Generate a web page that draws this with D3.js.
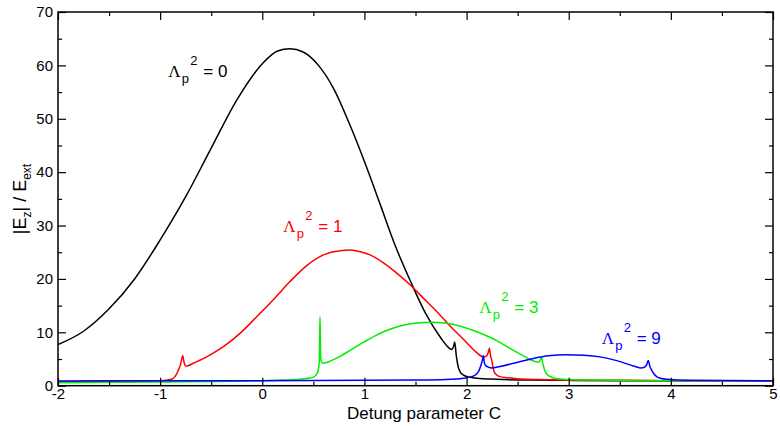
<!DOCTYPE html>
<html>
<head>
<meta charset="utf-8">
<script src="https://cdn.jsdelivr.net/npm/d3@7"></script>
<style>
  body { margin: 0; background: #fff; }
  svg { display: block; }
  text { font-family: "Liberation Sans", Arial, Helvetica, sans-serif; }
</style>
</head>
<body>
<svg id="chart" width="780" height="426"></svg>
<script>
// Tick values
const xMajorTicks = [-2, -1, 0, 1, 2, 3, 4, 5];
const xMinorTicks = [-1.5, -0.5, 0.5, 1.5, 2.5, 3.5, 4.5];
const yMajorTicks = [0, 10, 20, 30, 40, 50, 60, 70];
const yMinorTicks = [5, 15, 25, 35, 45, 55, 65];

// |E_z|/E_ext versus detuning C, for Lambda_p^2 = 0
const lam0C = [-2, -1.75, -1.5, -1.25, -1.0, -0.75, -0.5, -0.25, 0.0, 0.15, 0.27, 0.4, 0.55, 0.7, 0.85, 1.0, 1.15, 1.3, 1.45, 1.6, 1.75, 1.806, 1.855, 1.872, 1.884, 1.9, 1.92, 1.94, 1.97, 2.0, 2.05, 2.1, 2.295, 2.6, 3.0, 3.5, 4.0, 5.0];
const lam0E = [7.7, 10.2, 14.4, 20.0, 27.3, 35.4, 44.5, 53.5, 60.3, 62.7, 63.1, 62.5, 60.0, 55.6, 49.2, 42.0, 34.2, 26.3, 19.6, 13.5, 8.9, 7.5, 6.8, 7.3, 8.2, 5.5, 3.4, 2.5, 2.0, 1.75, 1.55, 1.4, 1.2, 1.05, 1.0, 0.95, 0.92, 0.9];

// Lambda_p^2 = 1
const lam1C = [-2, -1.5, -1.0, -0.95, -0.9, -0.871, -0.845, -0.822, -0.8, -0.779, -0.765, -0.747, -0.72, -0.675, -0.544, -0.381, -0.218, -0.055, 0.108, 0.271, 0.435, 0.598, 0.761, 0.859, 0.96, 1.055, 1.186, 1.316, 1.447, 1.577, 1.708, 1.838, 1.969, 2.034, 2.099, 2.164, 2.197, 2.212, 2.223, 2.235, 2.246, 2.258, 2.27, 2.29, 2.327, 2.4, 2.49, 2.7, 2.915, 3.5, 4.0, 5.0];
const lam1E = [0.75, 0.8, 0.9, 1.0, 1.15, 1.4, 2.0, 2.9, 4.0, 5.6, 4.3, 3.7, 3.8, 4.2, 5.4, 7.3, 9.8, 12.9, 16.1, 19.5, 22.5, 24.5, 25.3, 25.4, 25.1, 24.5, 23.0, 21.1, 18.9, 16.4, 13.9, 11.2, 8.7, 7.4, 6.2, 5.4, 5.6, 6.2, 7.0, 5.6, 4.8, 3.6, 2.6, 2.1, 1.7, 1.5, 1.3, 1.15, 1.07, 1.0, 0.95, 0.92];

// Lambda_p^2 = 3
const lam3C = [-2, -1.0, 0.0, 0.2, 0.37, 0.45, 0.5, 0.53, 0.548, 0.558, 0.565, 0.571, 0.578, 0.598, 0.65, 0.761, 0.859, 0.99, 1.1, 1.2, 1.3, 1.4, 1.52, 1.66, 1.8, 1.95, 2.1, 2.3, 2.45, 2.556, 2.62, 2.68, 2.71, 2.733, 2.745, 2.765, 2.79, 2.82, 2.86, 2.915, 3.2, 4.0, 5.0];
const lam3E = [0.55, 0.7, 0.95, 1.05, 1.2, 1.4, 1.6, 2.1, 2.9, 4.5, 12.9, 6.0, 4.5, 4.2, 4.5, 5.5, 6.6, 8.1, 9.3, 10.2, 10.9, 11.4, 11.75, 11.9, 11.7, 11.1, 10.1, 8.4, 6.7, 5.6, 4.9, 4.5, 4.4, 5.3, 4.3, 2.9, 2.1, 1.7, 1.4, 1.25, 1.05, 0.95, 0.92];

// Lambda_p^2 = 9
const lam9C = [-2, -1.0, 0.0, 1.0, 1.5, 1.8, 1.969, 2.066, 2.115, 2.14, 2.155, 2.164, 2.175, 2.197, 2.246, 2.327, 2.5, 2.654, 2.8, 2.98, 3.15, 3.306, 3.47, 3.633, 3.714, 3.76, 3.779, 3.795, 3.812, 3.835, 3.861, 3.9, 3.959, 4.2, 5.0];
const lam9E = [0.9, 0.92, 0.95, 1.0, 1.05, 1.15, 1.4, 1.8, 2.6, 3.8, 4.8, 5.6, 4.2, 3.6, 3.3, 3.6, 4.4, 5.1, 5.6, 5.8, 5.7, 5.4, 4.7, 3.7, 3.3, 3.8, 4.7, 3.6, 2.9, 2.2, 1.7, 1.4, 1.2, 1.0, 0.92];

const seriesLambda = ["0", "1", "3", "9"];

const svg = d3.select("#chart");
svg.append("rect").attr("width", 780).attr("height", 426).attr("fill", "#fff");

const plot = { left: 58, right: 773, top: 12, bottom: 385.7 };
const x = d3.scaleLinear().domain([-2, 5]).range([plot.left, plot.right]);
const y = d3.scaleLinear().domain([0, 70]).range([plot.bottom, plot.top]);

const series = [
  { c: lam0C, e: lam0E, color: "#000000", lab: [-0.92, 57.9] },
  { c: lam1C, e: lam1E, color: "#ff0000", lab: [0.206, 28.7] },
  { c: lam3C, e: lam3E, color: "#00ee00", lab: [2.125, 13.6] },
  { c: lam9C, e: lam9E, color: "#0000ff", lab: [3.323, 7.8] }
];

// Clip curves to the plotting frame
svg.append("defs").append("clipPath").attr("id", "frame")
  .append("rect")
  .attr("x", plot.left).attr("y", plot.top)
  .attr("width", plot.right - plot.left).attr("height", plot.bottom - plot.top);

const line = d3.line()
  .x(d => x(d[0]))
  .y(d => y(d[1]))
  .curve(d3.curveMonotoneX);

const curves = svg.append("g").attr("clip-path", "url(#frame)");
series.forEach(s => {
  curves.append("path")
    .datum(s.c.map((c, i) => [c, s.e[i]]))
    .attr("fill", "none")
    .attr("stroke", s.color)
    .attr("stroke-width", 1.5)
    .attr("stroke-linejoin", "round")
    .attr("d", line);
});

// Axes: ticks point inward on all four sides
function styleAxis(g) {
  g.selectAll(".tick line").attr("stroke", "#000").attr("stroke-width", 1.2);
  g.selectAll(".domain").remove();
  g.selectAll("text").attr("fill", "#000").style("font-size", "15px");
}
const fmt = d => String(d);

svg.append("g").attr("transform", `translate(0,${plot.bottom})`)
  .call(d3.axisBottom(x).tickValues(xMajorTicks).tickSizeInner(-8).tickSizeOuter(0).tickPadding(3).tickFormat(fmt))
  .call(styleAxis);
svg.append("g").attr("transform", `translate(0,${plot.bottom})`)
  .call(d3.axisBottom(x).tickValues(xMinorTicks).tickSizeInner(-4).tickSizeOuter(0).tickFormat(""))
  .call(styleAxis);
svg.append("g").attr("transform", `translate(0,${plot.top})`)
  .call(d3.axisTop(x).tickValues(xMajorTicks).tickSizeInner(-8).tickSizeOuter(0).tickFormat(""))
  .call(styleAxis);
svg.append("g").attr("transform", `translate(0,${plot.top})`)
  .call(d3.axisTop(x).tickValues(xMinorTicks).tickSizeInner(-4).tickSizeOuter(0).tickFormat(""))
  .call(styleAxis);

svg.append("g").attr("transform", `translate(${plot.left},0)`)
  .call(d3.axisLeft(y).tickValues(yMajorTicks).tickSizeInner(-8).tickSizeOuter(0).tickPadding(5).tickFormat(fmt))
  .call(styleAxis);
svg.append("g").attr("transform", `translate(${plot.left},0)`)
  .call(d3.axisLeft(y).tickValues(yMinorTicks).tickSizeInner(-4).tickSizeOuter(0).tickFormat(""))
  .call(styleAxis);
svg.append("g").attr("transform", `translate(${plot.right},0)`)
  .call(d3.axisRight(y).tickValues(yMajorTicks).tickSizeInner(-8).tickSizeOuter(0).tickFormat(""))
  .call(styleAxis);
svg.append("g").attr("transform", `translate(${plot.right},0)`)
  .call(d3.axisRight(y).tickValues(yMinorTicks).tickSizeInner(-4).tickSizeOuter(0).tickFormat(""))
  .call(styleAxis);

// Frame
svg.append("rect")
  .attr("x", plot.left).attr("y", plot.top)
  .attr("width", plot.right - plot.left).attr("height", plot.bottom - plot.top)
  .attr("fill", "none").attr("stroke", "#000").attr("stroke-width", 1.5);

// Curve labels: Λ_p^2 = value
series.forEach((s, i) => {
  const ax = x(s.lab[0]), ay = y(s.lab[1]);
  const t = svg.append("text").attr("fill", s.color);
  t.append("tspan").attr("x", ax).attr("y", ay)
    .style("font-family", '"Liberation Serif", "Times New Roman", serif')
    .style("font-size", "17px").text("Λ");
  t.append("tspan").attr("x", ax + 13.5).attr("y", ay + 6)
    .style("font-size", "13px").text("p");
  t.append("tspan").attr("x", ax + 22).attr("y", ay - 12)
    .style("font-size", "13px").text("2");
  t.append("tspan").attr("x", ax + 35).attr("y", ay)
    .style("font-size", "17px").text("= " + seriesLambda[i]);
});

// Axis titles
svg.append("text")
  .attr("x", 424).attr("y", 419)
  .attr("text-anchor", "middle")
  .style("font-size", "17px")
  .text("Detung parameter C");

const yt = svg.append("text")
  .attr("transform", "translate(26,199) rotate(-90)")
  .attr("text-anchor", "middle")
  .style("font-size", "18px");
yt.append("tspan").text("|E");
yt.append("tspan").attr("dy", 5).style("font-size", "12px").text("z");
yt.append("tspan").attr("dy", -5).text("| / E");
yt.append("tspan").attr("dy", 5).style("font-size", "12px").text("ext");
</script>
</body>
</html>
